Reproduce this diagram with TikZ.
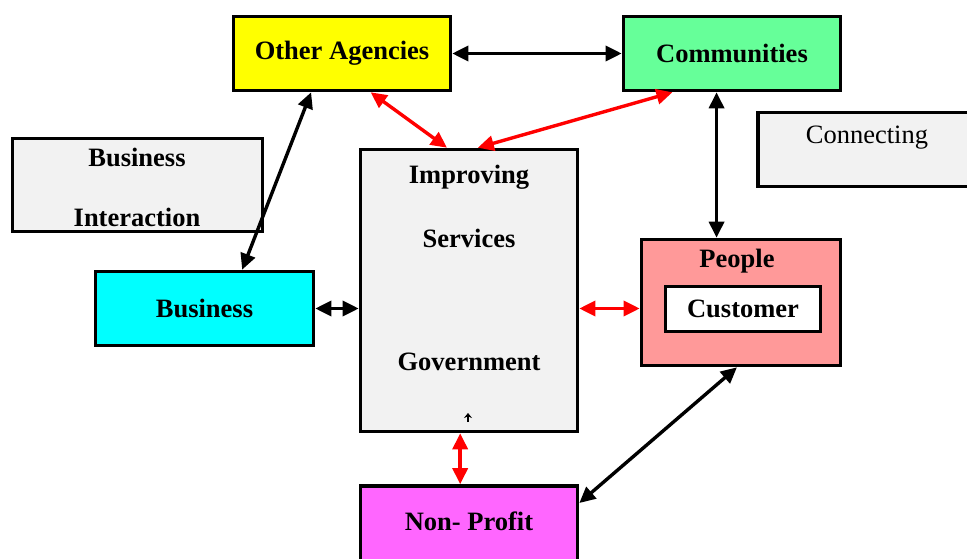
\documentclass[tikz,border=0pt]{standalone}
\usepackage{fontspec}
\setmainfont{Liberation Serif}
\usetikzlibrary{arrows.meta,calc}
\definecolor{ylw}{HTML}{FFFF00}
\definecolor{grn}{HTML}{66FF99}
\definecolor{gry}{HTML}{F2F2F2}
\definecolor{cyn}{HTML}{00FFFF}
\definecolor{pnk}{HTML}{FF9999}
\definecolor{mgt}{HTML}{FF66FF}
\definecolor{rd}{HTML}{FF0000}
\begin{document}
\begin{tikzpicture}[x=1pt,y=-1pt,
  box/.style={draw=black,line width=3.6pt,inner sep=0pt},
  lbl/.style={font=\fontsize{26.5}{30}\selectfont\bfseries,inner sep=0pt},
  plain/.style={font=\fontsize{26.5}{30}\selectfont,inner sep=0pt},
  blk/.style={line width=3.4pt,draw=black,{Triangle[length=16pt,width=15pt]}-{Triangle[length=16pt,width=15pt]}},
  redarrow/.style={line width=3.4pt,draw=rd,{Triangle[length=16pt,width=15pt]}-{Triangle[length=16pt,width=15pt]}}]
\clip (0,0) rectangle (967,559);
\fill[white] (0,0) rectangle (967,559);
% boxes
\node[box,fill=ylw,minimum width=217pt,minimum height=74pt,lbl] (oa) at (342,53.5) {Other Agencies};
\node[box,fill=grn,minimum width=217pt,minimum height=74pt,lbl] (cm) at (732,53.5) {Communities};
\node[box,fill=gry,minimum width=250pt,minimum height=93pt] (bi) at (137.5,185) {};
\node[lbl] (bi1) at (137,157) {Business};
\node[lbl] (bi2) at (137,217) {Interaction};
\node[box,fill=gry,minimum width=230pt,minimum height=74pt] (cn) at (873,149.5) {};
\node[plain] (cnt) at (867,138) {Connecting};
\node[box,fill=gry,minimum width=217pt,minimum height=282pt] (imp) at (469,290.5) {};
\node[lbl] (imp1) at (469,177) {Improving};
\node[lbl] (imp2) at (469,238) {Services};
\node[lbl] (imp3) at (469,362) {Government};
\coordinate (caretA) at (468,422);
\coordinate (caretB) at (468,413);
\draw[line width=1.2pt,-{Stealth[length=5pt,width=8pt]}] (caretA) -- (caretB);
\node[box,fill=cyn,minimum width=218pt,minimum height=74pt,lbl] (bus) at (204.5,308.5) {Business};
\node[box,fill=pnk,minimum width=199pt,minimum height=126pt] (ppl) at (741,302.5) {};
\node[lbl] (pplt) at (737,261) {People};
\node[box,fill=white,minimum width=155pt,minimum height=45pt,lbl] (cust) at (743,309) {Customer};
\node[box,fill=mgt,minimum width=217pt,minimum height=82pt] (np) at (469,527) {};
\node[lbl] (npt) at (469,521) {Non- Profit};
% connectors
\draw[blk] (oa.east) -- (cm.west);
\draw[redarrow] ($(oa.south west)!0.63!(oa.south east)$) -- ($(imp.north west)!0.4!(imp.north east)$);
\draw[redarrow] ($(cm.south west)!0.23!(cm.south east)$) -- ($(imp.north west)!0.54!(imp.north east)$);
\coordinate (c4) at ($(cm.south west)!0.43!(cm.south east)$);
\draw[blk] (c4) -- (c4 |- ppl.north);
\draw[blk] ($(oa.south west)!0.36!(oa.south east)$) -- ($(bus.north west)!0.67!(bus.north east)$);
\draw[blk] (bus.east) -- (imp.west |- bus.east);
\draw[redarrow] (imp.east |- bus.east) -- (ppl.west |- bus.east);
\coordinate (c8) at ($(imp.south west)!0.46!(imp.south east)$);
\draw[redarrow] (c8) -- (c8 |- np.north);
\draw[blk] ($(ppl.south west)!0.48!(ppl.south east)$) -- ($(np.north east)!0.22!(np.south east)$);
\end{tikzpicture}
\end{document}
